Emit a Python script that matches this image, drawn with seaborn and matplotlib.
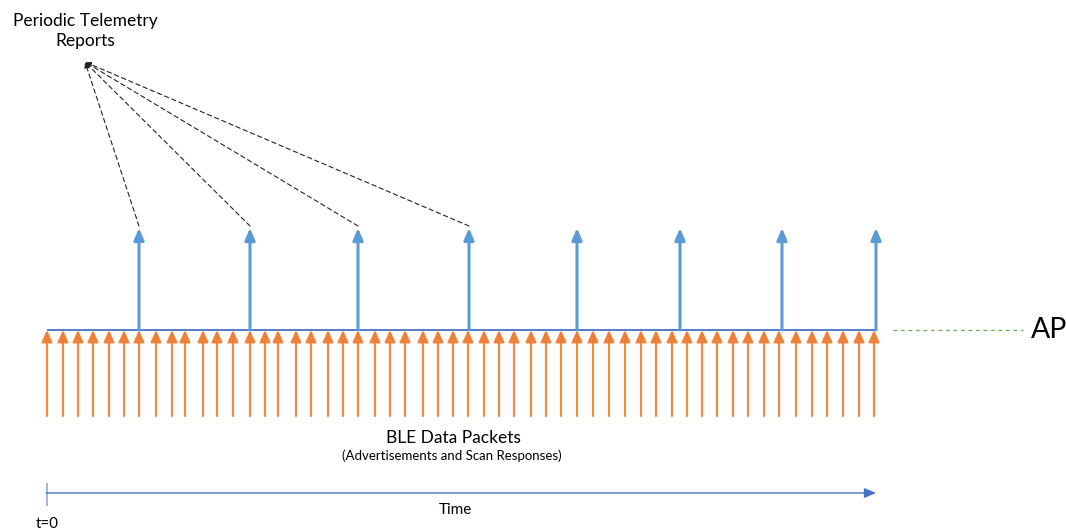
import matplotlib
matplotlib.use("Agg")
import matplotlib.pyplot as plt
import seaborn as sns

sns.set_theme(style="white")
plt.rcParams["font.family"] = ["Lato", "DejaVu Sans"]

# packet arrows (x positions, in pixels)
ble_packets_x = [47, 63, 78, 93, 109, 124, 139, 156, 172, 185, 203, 217, 233, 250,
                 265, 278, 296, 311, 328, 343, 358, 375, 390, 405, 423, 438, 453, 468,
                 484, 499, 514, 531, 546, 561, 577, 593, 609, 625, 641, 656, 672, 687,
                 702, 717, 733, 748, 764, 779, 796, 812, 827, 843, 859, 874]
telemetry_x = [139, 250, 358, 469, 577, 680, 782, 876]
linked_reports = telemetry_x[:4]

W, H = 1066, 529
BASE_Y = 330
PACKET_BOTTOM = 416
REPORT_TOP = 228
LABEL_PT = (85, 62)
TIME_Y = 493

ORANGE = "#ED7D31"
BLUE = "#5B9BD5"
DARK_BLUE = "#4472C4"
GREEN = "#70AD47"

fig = plt.figure(figsize=(W / 100, H / 100), dpi=100)
ax = fig.add_axes([0, 0, 1, 1])
ax.set_xlim(0, W)
ax.set_ylim(H, 0)
ax.axis("off")

# orange BLE packet arrows
for x in ble_packets_x:
    ax.annotate("", xy=(x, BASE_Y), xytext=(x, PACKET_BOTTOM),
                arrowprops=dict(arrowstyle="-|>,head_length=7,head_width=3.2",
                                mutation_scale=1, lw=1.6, color=ORANGE,
                                shrinkA=0, shrinkB=0, alpha=0.9))

# AP baseline
ax.hlines(BASE_Y, ble_packets_x[0], telemetry_x[-1], color=DARK_BLUE, lw=1.3, zorder=3)

# blue telemetry arrows
for x in telemetry_x:
    ax.annotate("", xy=(x, REPORT_TOP), xytext=(x, BASE_Y),
                arrowprops=dict(arrowstyle="-|>,head_length=7,head_width=3",
                                mutation_scale=1, lw=2.2, color=BLUE,
                                shrinkA=0, shrinkB=0))

# dashed links to the label
for x in linked_reports:
    ax.annotate("", xy=LABEL_PT, xytext=(x, REPORT_TOP - 2),
                arrowprops=dict(arrowstyle="-|>,head_length=3.5,head_width=1.5",
                                mutation_scale=1, lw=0.8, color="#222222",
                                linestyle=(0, (4, 3)), shrinkA=0, shrinkB=0))

# AP marker
ax.hlines(BASE_Y, 893, 1023, color=GREEN, lw=0.9, linestyles=(0, (3, 3)))
ax.text(1031, BASE_Y, "AP", fontsize=20.5, ha="left", va="center", color="black")

# labels
ax.text(85, 31, "Periodic Telemetry\nReports", fontsize=12.5, ha="center",
        va="center", linespacing=1.35, color="black")
ax.text(453, 438, "BLE Data Packets", fontsize=12.5, ha="center", va="center", color="black")
ax.text(452, 456, "(Advertisements and Scan Responses)", fontsize=9.5, ha="center",
        va="center", color="black")

# time axis
ax.annotate("", xy=(876, TIME_Y), xytext=(46, TIME_Y),
            arrowprops=dict(arrowstyle="-|>,head_length=7,head_width=3",
                            mutation_scale=1, lw=1.0, color=DARK_BLUE,
                            shrinkA=0, shrinkB=0))
ax.vlines(47, 483, 506, color="#8FAADC", lw=1.2)
ax.text(455, 510, "Time", fontsize=11, ha="center", va="center", color="black")
ax.text(47, 524, "t=0", fontsize=11, ha="center", va="center", color="black")

fig.savefig("out.png", dpi=100, facecolor="white")
